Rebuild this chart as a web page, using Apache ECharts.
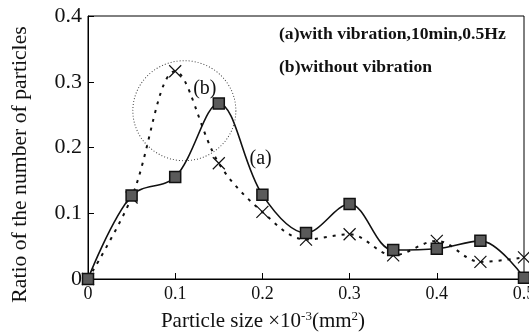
<!DOCTYPE html>
<html>
<head>
<meta charset="utf-8">
<script src="https://cdn.jsdelivr.net/npm/echarts@6/dist/echarts.min.js"></script>
<style>
  html, body { margin: 0; padding: 0; background: #fff; }
  #chart { width: 529px; height: 333px; }
</style>
</head>
<body>
<div id="chart"></div>
<script>
  // particle size x 10^-3 (mm^2)
  const sizes = [0, 0.05, 0.1, 0.15, 0.2, 0.25, 0.3, 0.35, 0.4, 0.45, 0.5];
  // (a) with vibration
  const withVib = [0, 0.127, 0.155, 0.267, 0.128, 0.07, 0.114, 0.044, 0.046, 0.058, 0.002];
  // (b) without vibration
  const withoutVib = [0, 0.124, 0.316, 0.176, 0.102, 0.06, 0.068, 0.036, 0.058, 0.026, 0.033];
  const legendLines = ['(a)with vibration,10min,0.5Hz', '(b)without vibration'];
  const circleCenter = [0.1105, 0.256];
  const labelA = [0.198, 0.183];
  const labelB = [0.134, 0.289];

  const serif = "'Liberation Serif', 'DejaVu Serif', serif";

  const chart = echarts.init(document.getElementById('chart'));
  const option = {
    animation: false,
    backgroundColor: '#fff',
    title: [
      {
        text: legendLines[0],
        left: 279,
        top: 25,
        padding: 0,
        textStyle: { fontFamily: serif, fontSize: 17.6, fontWeight: 'bold', color: '#111' },
      },
      {
        text: legendLines[1],
        left: 279,
        top: 58,
        padding: 0,
        textStyle: { fontFamily: serif, fontSize: 17.6, fontWeight: 'bold', color: '#111' },
      },
    ],
    grid: {
      left: 88,
      right: 5,
      top: 16,
      bottom: 54,
      outerBoundsMode: 'none',
      show: true,
      borderColor: '#000',
      borderWidth: 1,
      backgroundColor: 'transparent',
    },
    xAxis: {
      type: 'value',
      min: 0,
      max: 0.5,
      interval: 0.1,
      name: '{n|Particle size \u00d710}{s|-3}{n|(mm}{s|2}{n|)}',
      nameLocation: 'middle',
      nameGap: 31,
      nameTextStyle: {
        padding: [0, 86, 0, 0],
        rich: {
          n: { fontFamily: serif, fontSize: 21, color: '#111' },
          s: { fontFamily: serif, fontSize: 13, color: '#111', verticalAlign: 'top', padding: [0, 0, 9, 0] },
        },
      },
      axisLine: { lineStyle: { color: '#000', width: 1 } },
      axisTick: { inside: true, length: 6, lineStyle: { color: '#000' } },
      axisLabel: { fontFamily: serif, fontSize: 18, color: '#111', margin: 6 },
      splitLine: { show: false },
    },
    yAxis: {
      type: 'value',
      min: 0,
      max: 0.4,
      interval: 0.1,
      name: 'Ratio of the number of particles',
      nameLocation: 'middle',
      nameGap: 57,
      nameTextStyle: { fontFamily: serif, fontSize: 21.7, color: '#111', padding: [0, 34, 0, 0] },
      axisLine: { lineStyle: { color: '#000', width: 1 } },
      axisTick: { inside: true, length: 6, lineStyle: { color: '#000' } },
      axisLabel: { fontFamily: serif, fontSize: 22, color: '#111', margin: 6 },
      splitLine: { show: false },
    },
    series: [
      {
        name: 'without vibration',
        type: 'line',
        data: sizes.map((x, i) => [x, withoutVib[i]]),
        smooth: 0.35,
        symbol: 'path://M0,0L10,10M10,0L0,10',
        symbolSize: 12,
        itemStyle: { color: 'transparent', borderColor: '#111', borderWidth: 1.2 },
        lineStyle: { color: '#111', width: 2, type: [3, 6] },
        z: 2,
        markPoint: {
          silent: true,
          data: [
            {
              coord: circleCenter,
              symbol: 'circle',
              symbolSize: [103, 100],
              itemStyle: { color: 'transparent', borderColor: '#444', borderWidth: 1, borderType: [1, 2] },
              label: { show: false },
            },
            {
              coord: labelA,
              symbol: 'circle',
              symbolSize: 1,
              itemStyle: { color: 'transparent' },
              label: { show: true, position: 'inside', formatter: '(a)', fontFamily: serif, fontSize: 20, color: '#111' },
            },
            {
              coord: labelB,
              symbol: 'circle',
              symbolSize: 1,
              itemStyle: { color: 'transparent' },
              label: { show: true, position: 'inside', formatter: '(b)', fontFamily: serif, fontSize: 20, color: '#111' },
            },
          ],
        },
      },
      {
        name: 'with vibration',
        type: 'line',
        data: sizes.map((x, i) => [x, withVib[i]]),
        smooth: 0.35,
        symbol: 'rect',
        symbolSize: 11,
        itemStyle: { color: '#5a5a5a', borderColor: '#111', borderWidth: 1.5 },
        lineStyle: { color: '#111', width: 1.6 },
        z: 3,
      },
    ],
  };
  chart.setOption(option);
</script>
</body>
</html>
